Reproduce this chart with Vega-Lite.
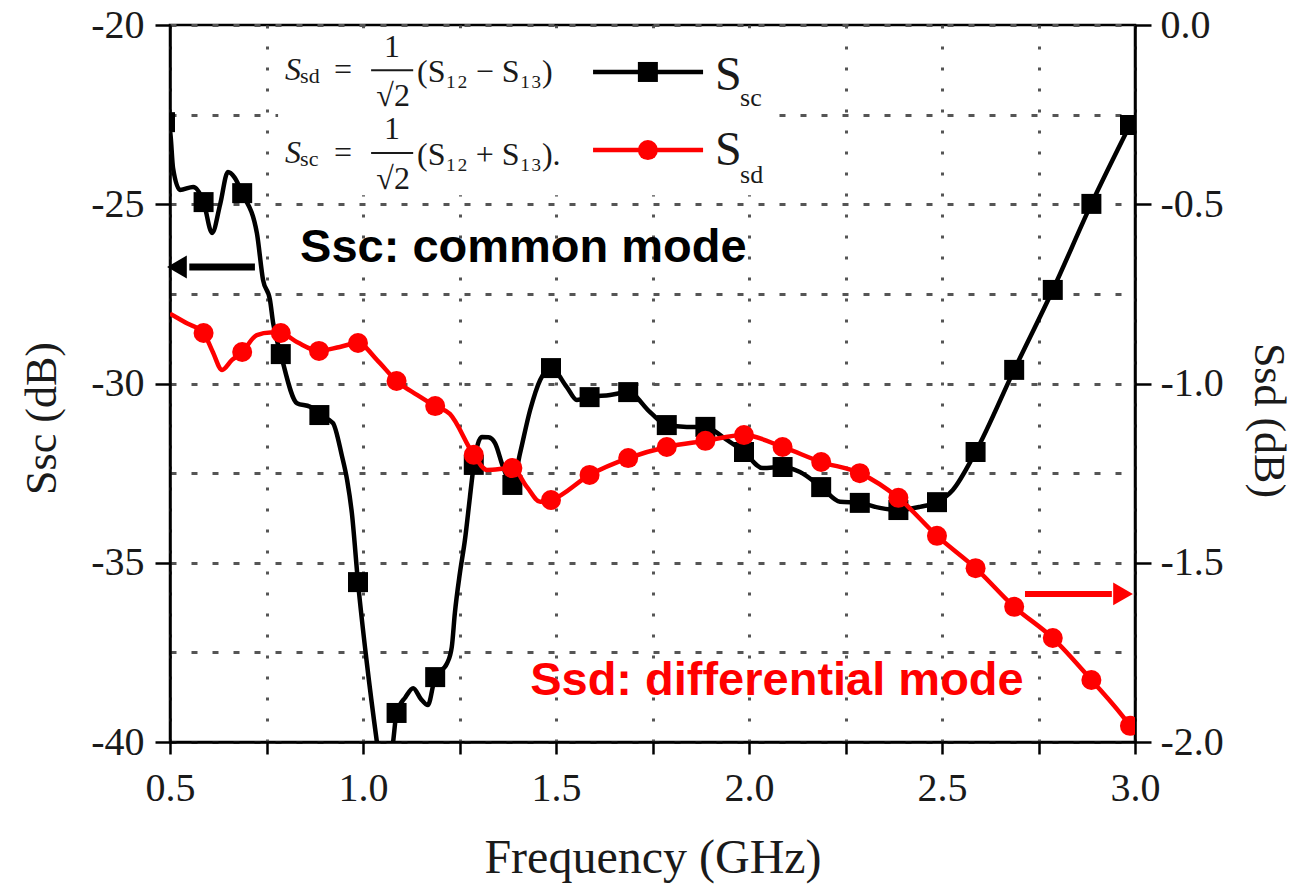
{
  "$schema": "https://vega.github.io/schema/vega-lite/v6.json",
  "width": 965,
  "height": 717,
  "autosize": {"type": "none"},
  "padding": {"left": 170, "top": 25, "right": 158, "bottom": 150},
  "background": "white",
  "config": {
    "view": {"stroke": "#000", "strokeWidth": 2.5},
    "font": "Liberation Serif",
    "axis": {
      "domainColor": "#000", "domainWidth": 2.5,
      "tickColor": "#000", "tickWidth": 2.5,
      "labelFont": "Liberation Serif", "labelFontSize": 40, "labelColor": "#1a1a1a",
      "titleFont": "Liberation Serif", "titleFontWeight": "normal", "titleColor": "#1a1a1a",
      "gridColor": "#555555", "gridWidth": 3, "gridOpacity": 1
    }
  },
  "datasets": {
    "ssc": [
      {"f":0.487,"sc":-22.71},{"f":0.5,"sc":-22.95},{"f":0.508,"sc":-24.0},{"f":0.526,"sc":-24.6},{"f":0.56,"sc":-24.52},
      {"f":0.587,"sc":-24.94},{"f":0.609,"sc":-25.8},{"f":0.63,"sc":-25.0},{"f":0.65,"sc":-24.1},{"f":0.667,"sc":-24.25},
      {"f":0.687,"sc":-24.69},{"f":0.725,"sc":-25.8},{"f":0.741,"sc":-27.11},{"f":0.759,"sc":-27.67},{"f":0.767,"sc":-28.3},
      {"f":0.787,"sc":-29.18},{"f":0.829,"sc":-30.55},{"f":0.863,"sc":-30.65},{"f":0.887,"sc":-30.88},{"f":0.922,"sc":-31.1},
      {"f":0.945,"sc":-32.0},{"f":0.959,"sc":-32.7},{"f":0.971,"sc":-33.6},{"f":0.987,"sc":-35.54},{"f":1.01,"sc":-37.8},
      {"f":1.036,"sc":-40.0},{"f":1.057,"sc":-41.6},{"f":1.078,"sc":-40.0},{"f":1.087,"sc":-39.19},{"f":1.11,"sc":-38.75},
      {"f":1.13,"sc":-38.5},{"f":1.15,"sc":-38.8},{"f":1.168,"sc":-38.97},{"f":1.187,"sc":-38.19},{"f":1.218,"sc":-37.8},
      {"f":1.23,"sc":-37.35},{"f":1.238,"sc":-36.4},{"f":1.251,"sc":-35.29},{"f":1.264,"sc":-34.37},{"f":1.277,"sc":-33.17},
      {"f":1.287,"sc":-32.27},{"f":1.308,"sc":-31.49},{"f":1.325,"sc":-31.5},{"f":1.342,"sc":-31.66},{"f":1.363,"sc":-32.33},
      {"f":1.387,"sc":-32.83},{"f":1.407,"sc":-31.94},{"f":1.433,"sc":-30.74},{"f":1.459,"sc":-29.9},{"f":1.487,"sc":-29.57},
      {"f":1.528,"sc":-30.1},{"f":1.554,"sc":-30.46},{"f":1.587,"sc":-30.38},{"f":1.64,"sc":-30.32},{"f":1.687,"sc":-30.24},
      {"f":1.744,"sc":-30.8},{"f":1.787,"sc":-31.16},{"f":1.839,"sc":-31.21},{"f":1.887,"sc":-31.21},{"f":1.933,"sc":-31.5},
      {"f":1.987,"sc":-31.91},{"f":2.036,"sc":-32.36},{"f":2.087,"sc":-32.33},{"f":2.132,"sc":-32.47},{"f":2.187,"sc":-32.89},
      {"f":2.236,"sc":-33.3},{"f":2.287,"sc":-33.33},{"f":2.339,"sc":-33.47},{"f":2.387,"sc":-33.53},{"f":2.443,"sc":-33.44},
      {"f":2.487,"sc":-33.31},{"f":2.528,"sc":-32.97},{"f":2.587,"sc":-31.91},{"f":2.687,"sc":-29.62},{"f":2.787,"sc":-27.39},
      {"f":2.887,"sc":-24.99},{"f":2.987,"sc":-22.79}
    ],
    "sscMarkers": [
      {"f":0.487,"sc":-22.71},{"f":0.587,"sc":-24.94},{"f":0.687,"sc":-24.69},{"f":0.787,"sc":-29.18},{"f":0.887,"sc":-30.88},
      {"f":0.987,"sc":-35.54},{"f":1.087,"sc":-39.19},{"f":1.187,"sc":-38.19},{"f":1.287,"sc":-32.27},{"f":1.387,"sc":-32.83},
      {"f":1.487,"sc":-29.57},{"f":1.587,"sc":-30.38},{"f":1.687,"sc":-30.24},{"f":1.787,"sc":-31.16},{"f":1.887,"sc":-31.21},
      {"f":1.987,"sc":-31.91},{"f":2.087,"sc":-32.33},{"f":2.187,"sc":-32.89},{"f":2.287,"sc":-33.33},{"f":2.387,"sc":-33.53},
      {"f":2.487,"sc":-33.31},{"f":2.587,"sc":-31.91},{"f":2.687,"sc":-29.62},{"f":2.787,"sc":-27.39},{"f":2.887,"sc":-24.99},
      {"f":2.987,"sc":-22.79}
    ],
    "ssd": [
      {"f":0.5,"sd":-0.805},{"f":0.54,"sd":-0.83},{"f":0.587,"sd":-0.859},{"f":0.61,"sd":-0.91},{"f":0.635,"sd":-0.962},
      {"f":0.66,"sd":-0.935},{"f":0.687,"sd":-0.912},{"f":0.725,"sd":-0.865},{"f":0.76,"sd":-0.858},{"f":0.787,"sd":-0.859},
      {"f":0.83,"sd":-0.885},{"f":0.886,"sd":-0.909},{"f":0.94,"sd":-0.898},{"f":0.987,"sd":-0.887},{"f":1.036,"sd":-0.934},
      {"f":1.087,"sd":-0.993},{"f":1.14,"sd":-1.032},{"f":1.187,"sd":-1.063},{"f":1.225,"sd":-1.085},{"f":1.287,"sd":-1.199},
      {"f":1.321,"sd":-1.241},{"f":1.387,"sd":-1.236},{"f":1.425,"sd":-1.289},{"f":1.459,"sd":-1.33},{"f":1.487,"sd":-1.325},
      {"f":1.587,"sd":-1.255},{"f":1.687,"sd":-1.208},{"f":1.787,"sd":-1.177},{"f":1.887,"sd":-1.16},{"f":1.987,"sd":-1.144},
      {"f":2.087,"sd":-1.177},{"f":2.187,"sd":-1.219},{"f":2.287,"sd":-1.25},{"f":2.387,"sd":-1.319},{"f":2.487,"sd":-1.425},
      {"f":2.587,"sd":-1.515},{"f":2.687,"sd":-1.623},{"f":2.787,"sd":-1.71},{"f":2.887,"sd":-1.827},{"f":2.987,"sd":-1.955},
      {"f":3.0,"sd":-1.975}
    ],
    "ssdMarkers": [
      {"f":0.587,"sd":-0.859},{"f":0.687,"sd":-0.912},{"f":0.787,"sd":-0.859},{"f":0.886,"sd":-0.909},{"f":0.987,"sd":-0.887},
      {"f":1.087,"sd":-0.993},{"f":1.187,"sd":-1.063},{"f":1.287,"sd":-1.199},{"f":1.387,"sd":-1.236},{"f":1.487,"sd":-1.325},
      {"f":1.587,"sd":-1.255},{"f":1.687,"sd":-1.208},{"f":1.787,"sd":-1.177},{"f":1.887,"sd":-1.16},{"f":1.987,"sd":-1.144},
      {"f":2.087,"sd":-1.177},{"f":2.187,"sd":-1.219},{"f":2.287,"sd":-1.25},{"f":2.387,"sd":-1.319},{"f":2.487,"sd":-1.425},
      {"f":2.587,"sd":-1.515},{"f":2.687,"sd":-1.623},{"f":2.787,"sd":-1.71},{"f":2.887,"sd":-1.827},{"f":2.987,"sd":-1.955}
    ]
  },
  "encoding": {
    "x": {"field": "f", "type": "quantitative", "scale": {"domain": [0.5, 3.0], "nice": false, "zero": false},
      "axis": {"values": [0.5,0.75,1.0,1.25,1.5,1.75,2.0,2.25,2.5,2.75,3.0],
        "labelExpr": "abs(datum.value*2 - round(datum.value*2)) < 0.001 ? format(datum.value, '.1f') : ''",
        "tickSize": 12, "labelPadding": 14, "labelOverlap": false, "labelFlush": false,
        "title": "Frequency (GHz)", "titleFontSize": 48, "titlePadding": 26,
        "grid": true, "gridDash": [3, 18]}}
  },
  "layer": [
    {
      "encoding": {
        "y": {"field": "sc", "type": "quantitative", "scale": {"domain": [-40, -20], "nice": false, "zero": false},
          "axis": {"orient": "left", "values": [-40,-37.5,-35,-32.5,-30,-27.5,-25,-22.5,-20],
            "labelExpr": "datum.value % 5 === 0 ? toString(datum.value) : ''",
            "tickOpacity": {"condition": {"test": "datum.value % 5 !== 0", "value": 0}, "value": 1},
            "tickSize": 15, "labelPadding": 11, "labelOverlap": false,
            "grid": true, "gridDash": [6, 15],
            "title": "Ssc (dB)", "titleFontSize": 44, "titlePadding": 26, "titleY": 393}}
      },
      "layer": [
        {
          "data": {"values": [{"f": 0.78, "f2": 2.07, "sc": -20.1, "sc2": -24.75}]},
          "mark": {"type": "rect", "fill": "white"},
          "encoding": {"x2": {"field": "f2"}, "y2": {"field": "sc2"}}
        },
        {
          "data": {"name": "ssc"},
          "mark": {"type": "line", "interpolate": "monotone", "color": "#000", "strokeWidth": 4.5, "clip": true}
        },
        {
          "data": {"name": "sscMarkers"},
          "mark": {"type": "point", "shape": "square", "filled": true, "size": 400, "color": "#000", "opacity": 1, "clip": true}
        },
        {
          "data": {"values": [{"f": 0.837, "sc": -26.61, "t": "Ssc: common mode"}]},
          "mark": {"type": "text", "font": "Liberation Sans", "fontWeight": "bold", "fontSize": 47, "align": "left", "baseline": "alphabetic", "color": "#000"},
          "encoding": {"text": {"field": "t"}}
        },
        {
          "data": {"values": [{"f": 0.55, "f2": 0.72, "sc": -26.75}]},
          "mark": {"type": "rule", "color": "#000", "strokeWidth": 7, "clip": false},
          "encoding": {"x2": {"field": "f2"}}
        },
        {
          "data": {"values": [{"f": 0.518, "sc": -26.75}]},
          "mark": {"type": "point", "shape": "triangle-left", "filled": true, "size": 520, "color": "#000", "opacity": 1, "clip": false}
        },
        {
          "data": {"values": [{"f": 1.596, "f2": 1.881, "sc": -21.31, "k": "Ssc"}, {"f": 1.596, "f2": 1.881, "sc": -23.49, "k": "Ssd"}]},
          "mark": {"type": "rule", "strokeWidth": 4.5},
          "encoding": {
            "x2": {"field": "f2"},
            "color": {"field": "k", "type": "nominal", "scale": {"domain": ["Ssc", "Ssd"], "range": ["#000000", "#ff0000"]}, "legend": null}
          }
        },
        {
          "data": {"values": [{"f": 1.738, "sc": -21.31, "k": "Ssc"}, {"f": 1.738, "sc": -23.49, "k": "Ssd"}]},
          "mark": {"type": "point", "filled": true, "size": 400, "opacity": 1},
          "encoding": {
            "color": {"field": "k", "type": "nominal", "scale": {"domain": ["Ssc", "Ssd"], "range": ["#000000", "#ff0000"]}, "legend": null},
            "shape": {"field": "k", "type": "nominal", "scale": {"domain": ["Ssc", "Ssd"], "range": ["square", "circle"]}, "legend": null}
          }
        },
        {
          "data": {"values": [{"f": 1.912, "sc": -21.81, "t": "S"}, {"f": 1.912, "sc": -23.91, "t": "S"}]},
          "mark": {"type": "text", "font": "Liberation Serif", "fontSize": 48, "align": "left", "baseline": "alphabetic", "color": "#1a1a1a"},
          "encoding": {"text": {"field": "t"}}
        },
        {
          "data": {"values": [{"f": 1.977, "sc": -22.26, "t": "sc"}, {"f": 1.977, "sc": -24.41, "t": "sd"}]},
          "mark": {"type": "text", "font": "Liberation Serif", "fontSize": 26, "align": "left", "baseline": "alphabetic", "color": "#1a1a1a"},
          "encoding": {"text": {"field": "t"}}
        },
        {
          "data": {"values": [{"f": 0.798, "sc": -21.53, "t": "S"}, {"f": 0.798, "sc": -23.85, "t": "S"}]},
          "mark": {"type": "text", "font": "Liberation Serif", "fontStyle": "italic", "fontSize": 32, "align": "left", "baseline": "alphabetic", "color": "#1a1a1a"},
          "encoding": {"text": {"field": "t"}}
        },
        {
          "data": {"values": [{"f": 0.837, "sc": -21.62, "t": "sd"}, {"f": 0.837, "sc": -23.93, "t": "sc"}]},
          "mark": {"type": "text", "font": "Liberation Serif", "fontSize": 22, "align": "left", "baseline": "alphabetic", "color": "#1a1a1a"},
          "encoding": {"text": {"field": "t"}}
        },
        {
          "data": {"values": [
            {"f": 0.948, "sc": -21.53, "t": "="}, {"f": 1.075, "sc": -20.89, "t": "1"}, {"f": 1.078, "sc": -22.26, "t": "√2"},
            {"f": 0.948, "sc": -23.85, "t": "="}, {"f": 1.075, "sc": -23.18, "t": "1"}, {"f": 1.078, "sc": -24.57, "t": "√2"}
          ]},
          "mark": {"type": "text", "font": "Liberation Serif", "fontSize": 32, "align": "center", "baseline": "alphabetic", "color": "#1a1a1a"},
          "encoding": {"text": {"field": "t"}}
        },
        {
          "data": {"values": [
            {"f": 1.14, "sc": -21.59, "t": "(S₁₂ − S₁₃)"},
            {"f": 1.14, "sc": -23.91, "t": "(S₁₂ + S₁₃)."}
          ]},
          "mark": {"type": "text", "font": "Liberation Serif", "fontSize": 32, "align": "left", "baseline": "alphabetic", "color": "#1a1a1a"},
          "encoding": {"text": {"field": "t"}}
        },
        {
          "data": {"values": [{"f": 1.021, "f2": 1.13, "sc": -21.26}, {"f": 1.021, "f2": 1.13, "sc": -23.57}]},
          "mark": {"type": "rule", "color": "#1a1a1a", "strokeWidth": 2},
          "encoding": {"x2": {"field": "f2"}}
        }
      ]
    },
    {
      "encoding": {
        "y": {"field": "sd", "type": "quantitative", "scale": {"domain": [-2, 0], "nice": false, "zero": false},
          "axis": {"orient": "right", "values": [0, -0.5, -1, -1.5, -2],
            "labelExpr": "replace(format(datum.value, '.1f'), '\u2212', '-')",
            "tickSize": 16, "labelPadding": 9, "labelOverlap": false, "grid": false,
            "title": "Ssd (dB)", "titleFontSize": 44, "titlePadding": 22, "titleY": 395}}
      },
      "layer": [
        {
          "data": {"name": "ssd"},
          "mark": {"type": "line", "interpolate": "monotone", "color": "#ff0000", "strokeWidth": 4.5, "clip": true}
        },
        {
          "data": {"name": "ssdMarkers"},
          "mark": {"type": "point", "shape": "circle", "filled": true, "size": 400, "color": "#ff0000", "opacity": 1, "clip": true}
        },
        {
          "data": {"values": [{"f": 1.433, "sd": -1.869, "t": "Ssd: differential mode"}]},
          "mark": {"type": "text", "font": "Liberation Sans", "fontWeight": "bold", "fontSize": 47, "align": "left", "baseline": "alphabetic", "color": "#ff0000"},
          "encoding": {"text": {"field": "t"}}
        },
        {
          "data": {"values": [{"f": 2.715, "f2": 2.94, "sd": -1.587}]},
          "mark": {"type": "rule", "color": "#ff0000", "strokeWidth": 6, "clip": false},
          "encoding": {"x2": {"field": "f2"}}
        },
        {
          "data": {"values": [{"f": 2.969, "sd": -1.587}]},
          "mark": {"type": "point", "shape": "triangle-right", "filled": true, "size": 520, "color": "#ff0000", "opacity": 1, "clip": false}
        }
      ]
    }
  ],
  "resolve": {"scale": {"y": "independent"}, "axis": {"y": "independent"}}
}
